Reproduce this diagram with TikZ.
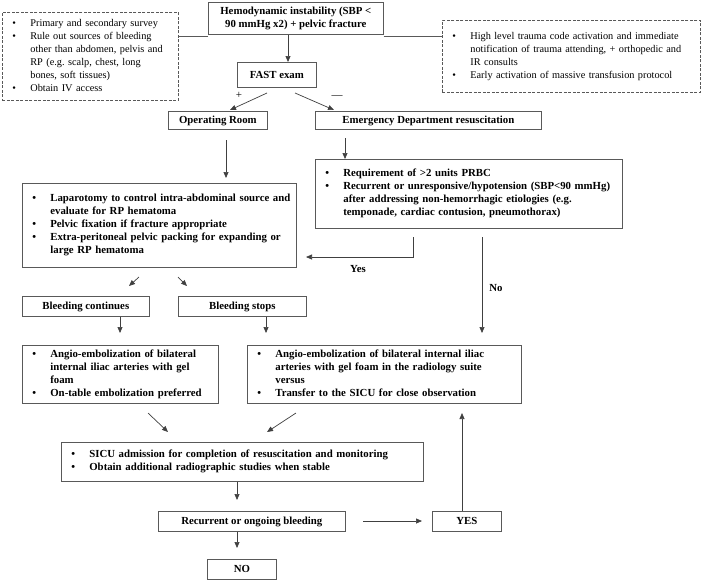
\documentclass[tikz,border=0pt]{standalone}
\usepackage{fontspec}
\setmainfont{Liberation Serif}
\usetikzlibrary{arrows.meta}
\newcommand\blist[1]{\noindent\begin{tabular}{@{}p{18pt}@{}l@{}}#1\end{tabular}}
\newcommand\bu{\textbullet}
\begin{document}
\begin{tikzpicture}[x=1pt,y=-1pt,
  box/.style={draw=black!65, line width=0.7pt, anchor=north west, inner sep=0pt,
    font=\fontsize{10.8}{13}\selectfont\bfseries},
  one/.style={text height=8.5pt, text depth=1.5pt},
  lst/.style={inner xsep=10pt, align=left},
  dbox/.style={dash pattern=on 3pt off 1.5pt, font=\fontsize{10.3}{13}\selectfont},
  arr/.style={draw=black!75, line width=0.7pt, -{Triangle[length=6pt,width=5pt]}},
  ln/.style={draw=black!65, line width=0.7pt},
  lbl/.style={font=\fontsize{10.8}{13}\selectfont\bfseries, inner sep=0pt}]
\useasboundingbox (0,0) rectangle (709,582);
\fill[white] (0,0) rectangle (709,582);

% boxes
\node[box, align=center, minimum width=175pt, minimum height=32pt] (hemo) at (208,2)
  {Hemodynamic instability (SBP <\\90 mmHg x2) + pelvic fracture};
\node[box, lst, dbox, text width=156pt, minimum height=88pt] (ldash) at (2,12)
  {\blist{\bu & Primary and secondary survey\\
          \bu & Rule out sources of bleeding\\
              & other than abdomen, pelvis and\\
              & RP (e.g.\ scalp, chest, long\\
              & bones, soft tissues)\\
          \bu & Obtain IV access}};
\node[box, lst, dbox, text width=238pt, minimum height=72pt] (rdash) at (442,20)
  {\blist{\bu & High level trauma code activation and immediate\\
              & notification of trauma attending, + orthopedic and\\
              & IR consults\\
          \bu & Early activation of massive transfusion protocol}};
\node[box, one, minimum width=79pt, minimum height=25pt] (fast) at (237,62) {FAST exam};
\node[box, one, minimum width=99pt, minimum height=18pt] (or) at (168,111) {Operating Room};
\node[box, one, minimum width=226pt, minimum height=18pt] (ed) at (315,111) {Emergency Department resuscitation};
\node[box, lst, text width=287pt, minimum height=69pt] (req) at (315,159)
  {\blist{\bu & Requirement of >2 units PRBC\\
          \bu & Recurrent or unresponsive/hypotension (SBP<90 mmHg)\\
              & after addressing non-hemorrhagic etiologies (e.g.\\
              & temponade, cardiac contusion, pneumothorax)}};
\node[box, lst, text width=254pt, minimum height=84pt] (lap) at (22,183)
  {\blist{\bu & Laparotomy to control intra-abdominal source and\\
              & evaluate for RP hematoma\\
          \bu & Pelvic fixation if fracture appropriate\\
          \bu & Extra-peritoneal pelvic packing for expanding or\\
              & large RP hematoma}};
\node[box, one, minimum width=127pt, minimum height=20pt] (bc) at (22,296) {Bleeding continues};
\node[box, one, minimum width=128pt, minimum height=20pt] (bs) at (178,296) {Bleeding stops};
\node[box, lst, text width=176pt, minimum height=58pt] (angl) at (22,345)
  {\blist{\bu & Angio-embolization of bilateral\\
              & internal iliac arteries with gel\\
              & foam\\
          \bu & On-table embolization preferred}};
\node[box, lst, text width=254pt, minimum height=58pt] (angr) at (247,345)
  {\blist{\bu & Angio-embolization of bilateral internal iliac\\
              & arteries with gel foam in the radiology suite\\
              & versus\\
          \bu & Transfer to the SICU for close observation}};
\node[box, lst, text width=342pt, minimum height=39pt] (sicu) at (61,442)
  {\blist{\bu & SICU admission for completion of resuscitation and monitoring\\
          \bu & Obtain additional radiographic studies when stable}};
\node[box, one, minimum width=187pt, minimum height=20pt] (rec) at (158,511) {Recurrent or ongoing bleeding};
\node[box, one, minimum width=69pt, minimum height=20pt] (yes) at (432,511) {YES};
\node[box, one, minimum width=69pt, minimum height=20pt] (no) at (207,559) {NO};

% helper coordinates
\coordinate (x288) at (288,0);
\coordinate (fa1) at (267,93);  \coordinate (fa2) at (230,110);
\coordinate (fb1) at (295,93);  \coordinate (fb2) at (334,110);
\coordinate (ora) at (226,140); \coordinate (orb) at (226,178);
\coordinate (x345) at (345,0);  \coordinate (edb) at (345,138);
\coordinate (ya) at (413,237);  \coordinate (yb) at (413,257); \coordinate (yc) at (306,257);
\coordinate (na) at (482,237);  \coordinate (nb) at (482,333);
\coordinate (la1) at (139,277); \coordinate (la2) at (129,286);
\coordinate (lb1) at (178,277); \coordinate (lb2) at (187,286);
\coordinate (bca) at (120,333); \coordinate (bsa) at (266,333);
\coordinate (s1a) at (148,413); \coordinate (s1b) at (168,432);
\coordinate (s2a) at (296,413); \coordinate (s2b) at (267,432);
\coordinate (x237) at (237,0);  \coordinate (sb) at (237,500);
\coordinate (ra) at (363,521);  \coordinate (rb) at (422,521);
\coordinate (x462) at (462,0);  \coordinate (ytop) at (462,413);
\coordinate (nob) at (237,548);

% connectors
\draw[ln] ([yshift=-2pt]hemo.south west) -- ([yshift=-2pt]hemo.south west -| ldash.east);
\draw[ln] ([yshift=-2pt]hemo.south east) -- ([yshift=-2pt]hemo.south east -| rdash.west);
\draw[arr] (hemo.south -| x288) -- (fast.north -| x288);
\draw[arr] (fa1) -- (fa2);
\draw[arr] (fb1) -- (fb2);
\node[font=\fontsize{11}{13}\selectfont, inner sep=0pt] (plus) at (239,95) {+};
\node[font=\fontsize{11}{13}\selectfont, inner sep=0pt] (minus) at (337,97) {---};
\draw[arr] (ora) -- (orb);
\draw[arr] (edb) -- (req.north -| x345);
\draw[arr] (ya) -- (yb) -- (yc);
\node[lbl] (yeslbl) at (358,269) {Yes};
\draw[arr] (na) -- (nb);
\node[lbl] (nolbl) at (496,288) {No};
\draw[arr] (la1) -- (la2);
\draw[arr] (lb1) -- (lb2);
\draw[arr] (bc.south -| bca) -- (bca);
\draw[arr] (bs.south -| bsa) -- (bsa);
\draw[arr] (s1a) -- (s1b);
\draw[arr] (s2a) -- (s2b);
\draw[arr] (sicu.south -| x237) -- (sb);
\draw[arr] (ra) -- (rb);
\draw[arr] (yes.north -| x462) -- (ytop);
\draw[arr] (rec.south -| x237) -- (nob);
\end{tikzpicture}
\end{document}
